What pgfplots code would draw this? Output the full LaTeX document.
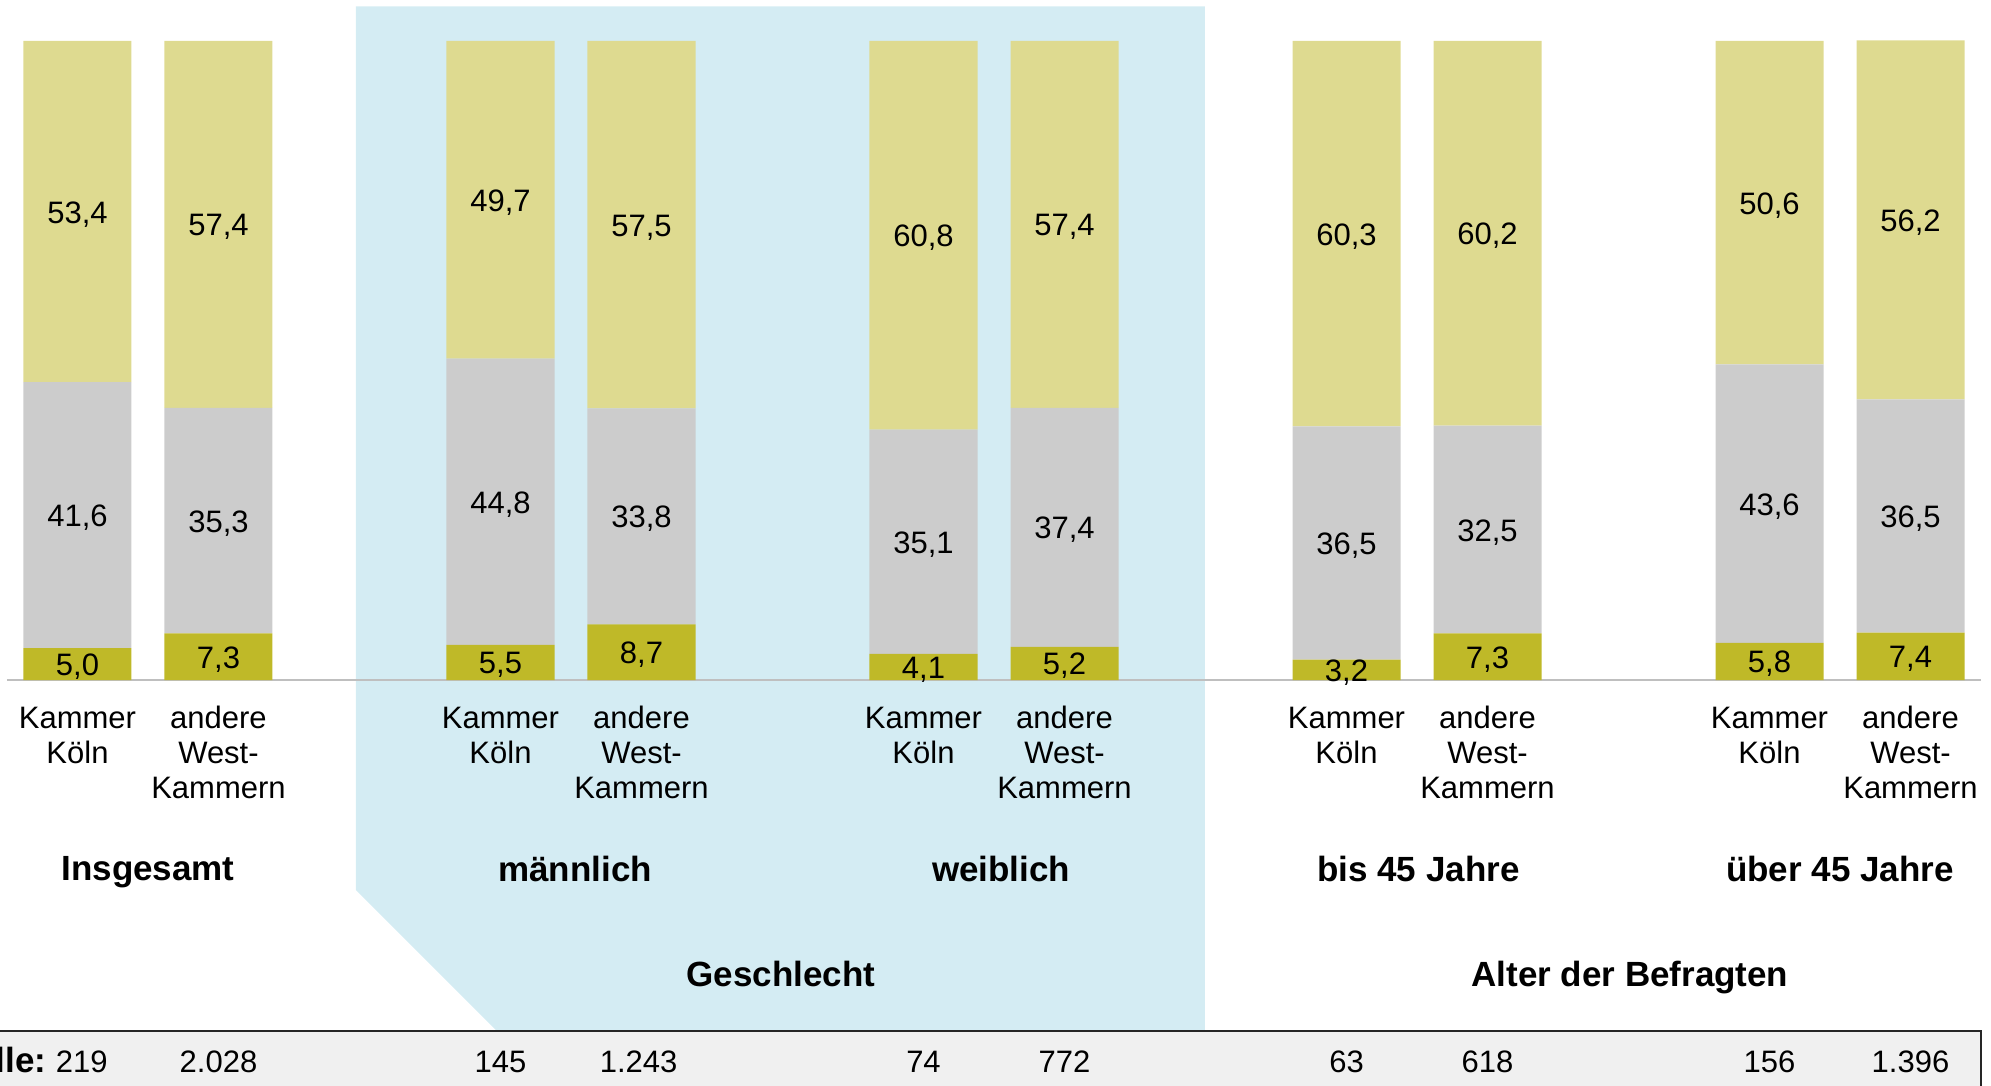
\documentclass[border=0pt]{standalone}
\usepackage{fontspec}
\setmainfont{Liberation Sans}
\usepackage{pgfplots}
\usepackage{pgfplotstable}
\pgfplotsset{compat=1.18}

\definecolor{gelb}{HTML}{DEDA90}
\definecolor{grau}{HTML}{CCCCCC}
\definecolor{oliv}{HTML}{BFB928}
\definecolor{hellblau}{HTML}{D4ECF3}
\definecolor{tabgrau}{HTML}{F0F0F0}

% a = unten (oliv), b = Mitte (grau), c = oben (gelb); x = Balkenposition
\pgfplotstableread{
x  a    b    c
0  5.0  41.6 53.4
1  7.3  35.3 57.4
3  5.5  44.8 49.7
4  8.7  33.8 57.5
6  4.1  35.1 60.8
7  5.2  37.4 57.4
9  3.2  36.5 60.3
10 7.3  32.5 60.2
12 5.8  43.6 50.6
13 7.4  36.5 56.2
}\werte

\pgfplotsset{
  basis/.style={
    x=42.3pt, y=1.917pt,
    xmin=-0.5496, xmax=13.571,
    ymin=-63.38, ymax=106.42,
    enlargelimits=false,
    hide axis, clip=false,
  },
}
\tikzset{
  txt/.style={font=\fontsize{9.3}{10.5}\selectfont, inner sep=0pt},
  fett/.style={font=\fontsize{10.5}{12}\selectfont\bfseries, inner sep=0pt},
}

\begin{document}
\begin{tikzpicture}
% Hintergrund, Tabelle und Texte
\begin{axis}[basis]
  \addplot[draw=none, mark=none] coordinates {(0,0)};
  \fill[hellblau] (axis cs:1.975,105.4) -- (axis cs:7.996,105.4)
    -- (axis cs:7.996,-54.77) -- (axis cs:2.968,-54.77)
    -- (axis cs:1.975,-32.86) -- cycle;
  \fill[tabgrau] (axis cs:-1,-54.85) rectangle (axis cs:13.5,-70);
  \draw[black!85, line width=0.6pt] (axis cs:-1,-54.85) -- (axis cs:13.5,-54.85) -- (axis cs:13.5,-70);

  \pgfplotsinvokeforeach{0,3,6,9,12}{
    \node[txt, anchor=north, align=center] at (axis cs:#1,-4.2) {Kammer\\Köln};
  }
  \pgfplotsinvokeforeach{1,4,7,10,13}{
    \node[txt, anchor=north, align=center] at (axis cs:#1,-4.0) {andere\\West-\\Kammern};
  }

  \node[fett, anchor=base] at (axis cs:0.5,-31.4) {Insgesamt};
  \node[fett, anchor=base] at (axis cs:3.53,-31.6) {männlich};
  \node[fett, anchor=base] at (axis cs:6.55,-31.6) {weiblich};
  \node[fett, anchor=base] at (axis cs:9.51,-31.6) {bis 45 Jahre};
  \node[fett, anchor=base] at (axis cs:12.5,-31.6) {über 45 Jahre};
  \node[fett, anchor=base] at (axis cs:4.99,-48) {Geschlecht};
  \node[fett, anchor=base] at (axis cs:11.01,-48) {Alter der Befragten};

  % Fallzahlen
  \node[fett, anchor=base east] at (axis cs:-0.215,-61.45) {Fälle:};
  \node[txt, anchor=base] at (axis cs:0.03,-61.45) {219};
  \node[txt, anchor=base] at (axis cs:1,-61.45) {2.028};
  \node[txt, anchor=base] at (axis cs:3,-61.45) {145};
  \node[txt, anchor=base] at (axis cs:3.98,-61.45) {1.243};
  \node[txt, anchor=base] at (axis cs:6,-61.45) {74};
  \node[txt, anchor=base] at (axis cs:7,-61.45) {772};
  \node[txt, anchor=base] at (axis cs:9,-61.45) {63};
  \node[txt, anchor=base] at (axis cs:10,-61.45) {618};
  \node[txt, anchor=base] at (axis cs:12,-61.45) {156};
  \node[txt, anchor=base] at (axis cs:13,-61.45) {1.396};

  \coordinate (bl) at (axis cs:-0.5496,-63.38);
  \coordinate (tr) at (axis cs:13.571,106.42);
\end{axis}

% Balken
\begin{axis}[basis, ybar stacked, bar width=0.766]
  \addplot[fill=oliv, draw=none] table[x=x, y=a] {\werte};
  \addplot[fill=grau, draw=none] table[x=x, y=b] {\werte};
  \addplot[fill=gelb, draw=none] table[x=x, y=c] {\werte};
  \draw[black!25, line width=0.7pt] (axis cs:-0.5,0) -- (axis cs:13.5,0);
\end{axis}

% Wertebeschriftung in der Mitte der Segmente
\begin{axis}[basis, point meta=explicit,
    nodes near coords,
    every node near coord/.append style={anchor=center, text=black, yshift=-0.8pt,
      font=\fontsize{9.3}{10.5}\selectfont},
    /pgf/number format/.cd, use comma, fixed, fixed zerofill, precision=1,
    assume math mode=true]
  \addplot[draw=none, mark=none] table[x=x, y expr=\thisrow{a}/2, meta=a] {\werte};
  \addplot[draw=none, mark=none] table[x=x, y expr=\thisrow{a}+\thisrow{b}/2, meta=b] {\werte};
  \addplot[draw=none, mark=none] table[x=x, y expr=\thisrow{a}+\thisrow{b}+\thisrow{c}/2, meta=c] {\werte};
\end{axis}

\pgfresetboundingbox
\path[use as bounding box] (bl) rectangle (tr);
\end{tikzpicture}
\end{document}
